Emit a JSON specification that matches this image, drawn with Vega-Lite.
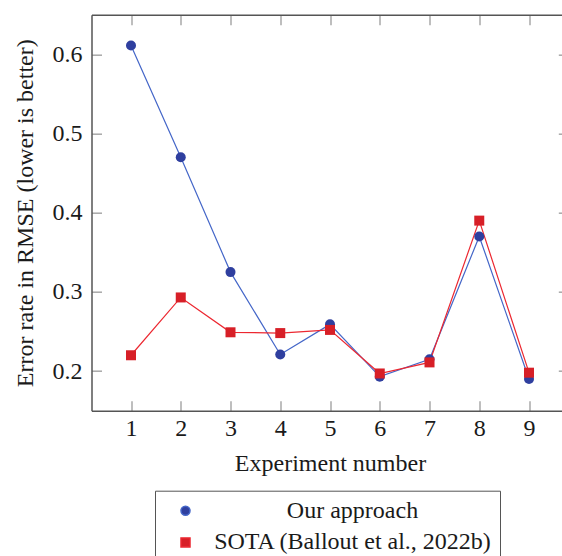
{
  "$schema": "https://vega.github.io/schema/vega-lite/v6.json",
  "width": 470.5,
  "height": 396,
  "autosize": {"type": "none"},
  "padding": {"left": 91.5, "top": 14.7, "right": 0, "bottom": 145.3},
  "background": "white",
  "config": {
    "view": {"stroke": null},
    "font": "Liberation Serif",
    "axis": {"grid": false, "labelFont": "Liberation Serif", "titleFont": "Liberation Serif", "labelColor": "#1a1a1a", "titleColor": "#1a1a1a", "titleFontWeight": "normal", "labelFontSize": 24, "titleFontSize": 24, "tickColor": "#a8a8a8", "tickWidth": 1.5, "domainColor": "#555555", "domainWidth": 1.5, "labelFlush": false},
    "legend": {
      "labelFont": "Liberation Serif", "orient": "none", "legendX": 63.5, "legendY": 476, "direction": "vertical",
      "strokeColor": "#555555", "fillColor": "white", "padding": 8,
      "labelFontSize": 24, "labelColor": "#1a1a1a", "labelLimit": 400, "labelAlign": "center", "labelOffset": 155, "labelBaseline": "middle",
      "symbolOffset": 10.5, "symbolSize": 81, "symbolStrokeWidth": 1.5, "rowPadding": 7.7
    }
  },
  "data": {
    "values": [
      {"exp": 1, "series": "Our approach", "rmse": 0.611},
      {"exp": 2, "series": "Our approach", "rmse": 0.470},
      {"exp": 3, "series": "Our approach", "rmse": 0.325},
      {"exp": 4, "series": "Our approach", "rmse": 0.221},
      {"exp": 5, "series": "Our approach", "rmse": 0.259},
      {"exp": 6, "series": "Our approach", "rmse": 0.193},
      {"exp": 7, "series": "Our approach", "rmse": 0.215},
      {"exp": 8, "series": "Our approach", "rmse": 0.370},
      {"exp": 9, "series": "Our approach", "rmse": 0.190},
      {"exp": 1, "series": "SOTA (Ballout et al., 2022b)", "rmse": 0.220},
      {"exp": 2, "series": "SOTA (Ballout et al., 2022b)", "rmse": 0.293},
      {"exp": 3, "series": "SOTA (Ballout et al., 2022b)", "rmse": 0.249},
      {"exp": 4, "series": "SOTA (Ballout et al., 2022b)", "rmse": 0.248},
      {"exp": 5, "series": "SOTA (Ballout et al., 2022b)", "rmse": 0.252},
      {"exp": 6, "series": "SOTA (Ballout et al., 2022b)", "rmse": 0.197},
      {"exp": 7, "series": "SOTA (Ballout et al., 2022b)", "rmse": 0.211},
      {"exp": 8, "series": "SOTA (Ballout et al., 2022b)", "rmse": 0.390},
      {"exp": 9, "series": "SOTA (Ballout et al., 2022b)", "rmse": 0.198}
    ]
  },
  "resolve": {"axis": {"x": "independent", "y": "independent"}},
  "layer": [
    {
      "mark": {"type": "line", "strokeWidth": 1.2},
      "encoding": {
        "x": {"field": "exp", "type": "quantitative", "scale": {"domain": [0.206, 9.663], "nice": false, "zero": false},
          "axis": {"orient": "bottom", "values": [1, 2, 3, 4, 5, 6, 7, 8, 9], "format": "d", "tickSize": -10, "labelBaseline": "alphabetic", "labelPadding": 35, "title": "Experiment number", "titleX": 238.5, "titleY": 59.3, "titleBaseline": "alphabetic", "titleAlign": "center"}},
        "y": {"field": "rmse", "type": "quantitative", "scale": {"domain": [0.15, 0.65], "nice": false, "zero": false},
          "axis": {"orient": "left", "values": [0.2, 0.3, 0.4, 0.5, 0.6], "format": ".1f", "tickSize": -10, "labelPadding": 19.5, "labelBaseline": "middle", "title": "Error rate in RMSE (lower is better)", "titleX": -59.5, "titleY": 198, "titleBaseline": "alphabetic", "titleAlign": "center", "titleAngle": -90}},
        "stroke": {"field": "series", "type": "nominal", "scale": {"domain": ["Our approach", "SOTA (Ballout et al., 2022b)"], "range": ["#4466c8", "#ec2730"]},
          "legend": {"title": null,
            "encode": {"symbols": {"update": {
              "shape": {"value": {"expr": "datum.value === 'Our approach' ? 'M-4.67,0H4.67M1,0A1,1,0,1,1,-1,0A1,1,0,1,1,1,0Z' : 'M-4.67,0H4.67M-1,-1H1V1H-1Z'"}},
              "stroke": {"value": {"expr": "datum.value === 'Our approach' ? '#4466c8' : '#ec2730'"}},
              "fill": {"value": {"expr": "datum.value === 'Our approach' ? '#2f3f9f' : '#d71f27'"}},
              "opacity": {"value": 1},
              "strokeWidth": {"value": 1.5}
            }}}
          }}
      }
    },
    {
      "mark": {"type": "point", "filled": true, "opacity": 1, "size": 100},
      "encoding": {
        "x": {"field": "exp", "type": "quantitative",
          "axis": {"orient": "top", "values": [1, 2, 3, 4, 5, 6, 7, 8, 9], "labels": false, "title": null, "tickSize": -10}},
        "y": {"field": "rmse", "type": "quantitative",
          "axis": {"orient": "right", "values": [0.2, 0.3, 0.4, 0.5, 0.6], "labels": false, "title": null, "tickSize": -3.7, "domain": false}},
        "fill": {"field": "series", "type": "nominal", "scale": {"domain": ["Our approach", "SOTA (Ballout et al., 2022b)"], "range": ["#2f3f9f", "#d71f27"]},
          "legend": {"title": null,
            "encode": {"symbols": {"update": {
              "shape": {"value": {"expr": "datum.value === 'Our approach' ? 'M-4.67,0H4.67M1,0A1,1,0,1,1,-1,0A1,1,0,1,1,1,0Z' : 'M-4.67,0H4.67M-1,-1H1V1H-1Z'"}},
              "stroke": {"value": {"expr": "datum.value === 'Our approach' ? '#4466c8' : '#ec2730'"}},
              "fill": {"value": {"expr": "datum.value === 'Our approach' ? '#2f3f9f' : '#d71f27'"}},
              "opacity": {"value": 1},
              "strokeWidth": {"value": 1.5}
            }}}
          }},
        "shape": {"field": "series", "type": "nominal", "scale": {"domain": ["Our approach", "SOTA (Ballout et al., 2022b)"], "range": ["circle", "square"]},
          "legend": {"title": null,
            "encode": {"symbols": {"update": {
              "shape": {"value": {"expr": "datum.value === 'Our approach' ? 'M-4.67,0H4.67M1,0A1,1,0,1,1,-1,0A1,1,0,1,1,1,0Z' : 'M-4.67,0H4.67M-1,-1H1V1H-1Z'"}},
              "stroke": {"value": {"expr": "datum.value === 'Our approach' ? '#4466c8' : '#ec2730'"}},
              "fill": {"value": {"expr": "datum.value === 'Our approach' ? '#2f3f9f' : '#d71f27'"}},
              "opacity": {"value": 1},
              "strokeWidth": {"value": 1.5}
            }}}
          }}
      }
    }
  ]
}
